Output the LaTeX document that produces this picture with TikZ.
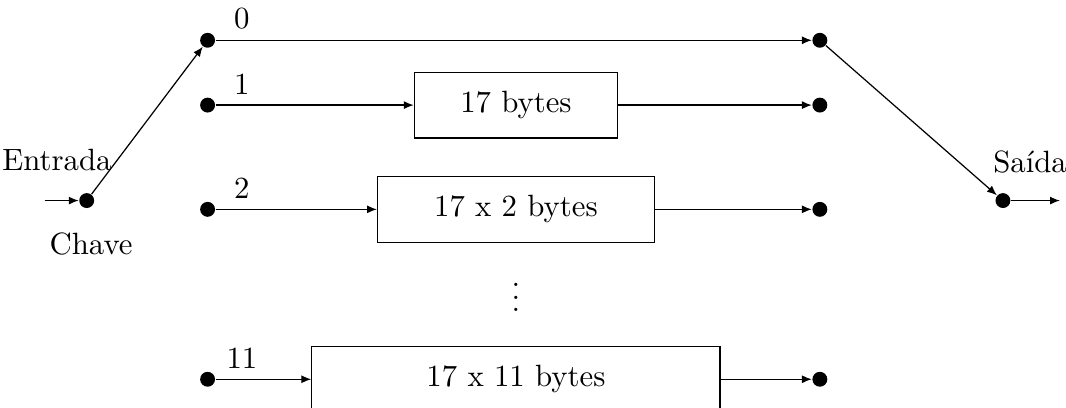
\documentclass[tikz,border=0pt]{standalone}
\usepackage{tikz}
\usetikzlibrary{arrows.meta,positioning}

\begin{document}
\begin{tikzpicture}[->,>={Latex[length=3.2pt,width=2.6pt]},
   dot/.style={circle,fill,inner sep=0pt,minimum size=0.17cm},
   buffer/.style={draw,minimum height=0.75cm},
   num/.style={above,xshift=3.0mm}]
  \useasboundingbox (0,0) rectangle (12.17,4.65);
  % switch in and out
  \coordinate (src) at (0.51,2.36);
  \node[dot] (in) at (0.99,2.36) {};
  \node[dot] (out) at (11.45,2.36) {};
  \coordinate (sink) at (12.10,2.36);
  \node at (0.65,2.82) {Entrada};
  \node at (1.04,1.87) {Chave};
  \node at (11.76,2.80) {Sa\'{\i}da};
  % line ends
  \node[dot] (l0) at (2.37,4.19) {};
  \node[dot] (l1) at (2.37,3.45) {};
  \node[dot] (l2) at (2.37,2.26) {};
  \node[dot] (l11) at (2.37,0.32) {};
  \node[dot] (r0) at (9.36,4.19) {};
  \node[dot] (r1) at (9.36,3.45) {};
  \node[dot] (r2) at (9.36,2.26) {};
  \node[dot] (r11) at (9.36,0.32) {};
  % delay buffers
  \node[buffer,minimum width=2.32cm] (b1) at (5.89,3.45) {17 bytes};
  \node[buffer,minimum width=3.16cm] (b2) at (5.89,2.26) {17 x 2 bytes};
  \node[buffer,minimum width=4.66cm] (b11) at (5.89,0.32) {17 x 11 bytes};
  \node (dots) at (5.89,1.36) {$\vdots$};
  \path
   (src) edge (in)
   (in) edge (l0)
   (r0) edge (out)
   (out) edge (sink)
   (l0) edge node[at start,num] {0} (r0)
   (l1) edge node[at start,num] {1} (b1)
   (b1) edge (r1)
   (l2) edge node[at start,num] {2} (b2)
   (b2) edge (r2)
   (l11) edge node[at start,num] {11} (b11)
   (b11) edge (r11);
\end{tikzpicture}
\end{document}
